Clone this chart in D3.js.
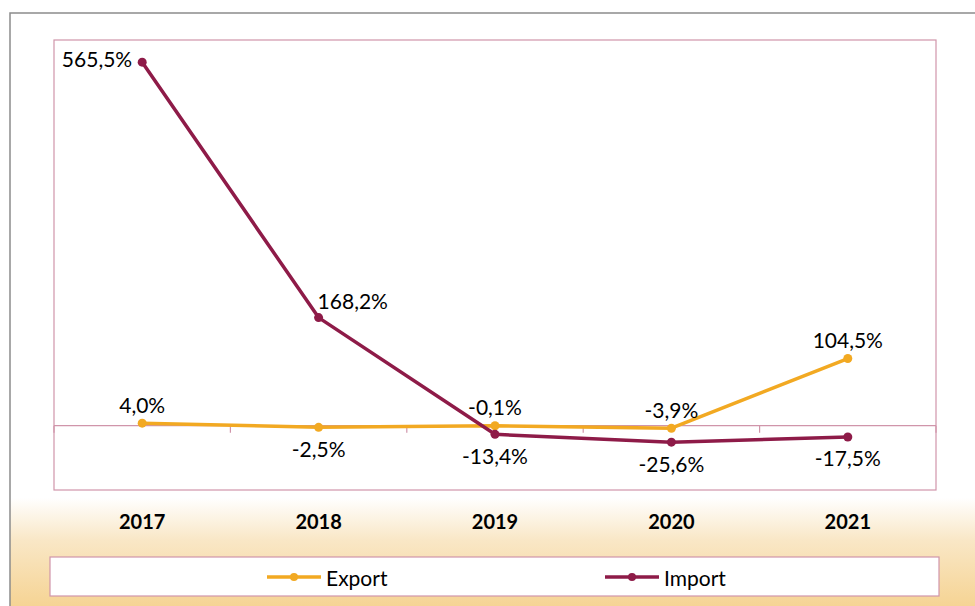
<!DOCTYPE html>
<html>
<head>
<meta charset="utf-8">
<script src="https://cdn.jsdelivr.net/npm/d3@7"></script>
<style>
  body { margin: 0; background: #fff; }
  svg text { font-family: Lato, "Open Sans", sans-serif; fill: #000; }
</style>
</head>
<body>
<div id="chart"></div>
<script>
// data
var years = ["2017", "2018", "2019", "2020", "2021"];
var exportValues = [4.0, -2.5, -0.1, -3.9, 104.5];
var importValues = [565.5, 168.2, -13.4, -25.6, -17.5];
var seriesNames = ["Export", "Import"];

// label placement per point (style only)
var exportPlace = ["above", "below", "above", "above", "above"];
var importPlace = ["left", "aboveRight", "below", "below", "below"];

var W = 975, H = 606;
var margin = {top: 40, right: 39, bottom: 116, left: 54};
var plotW = W - margin.left - margin.right,
    plotH = H - margin.top - margin.bottom;

var colors = {Export: "#f2a922", Import: "#8e1b48"};
var pink = "#d095aa";

var svg = d3.select("#chart").append("svg")
    .attr("width", W)
    .attr("height", H);

// background gradient
var defs = svg.append("defs");
var grad = defs.append("linearGradient")
    .attr("id", "bg")
    .attr("x1", 0).attr("y1", 0).attr("x2", 0).attr("y2", 1);
grad.append("stop").attr("offset", "0%").attr("stop-color", "#ffffff");
grad.append("stop").attr("offset", "80%").attr("stop-color", "#ffffff");
grad.append("stop").attr("offset", "87%").attr("stop-color", "#f9e7c6");
grad.append("stop").attr("offset", "100%").attr("stop-color", "#f5d08a");

svg.append("rect")
    .attr("x", 10).attr("y", 13)
    .attr("width", W).attr("height", H)
    .attr("fill", "url(#bg)")
    .attr("stroke", "#8c8c8c")
    .attr("stroke-width", 1.5);

var x = d3.scaleBand()
    .domain(years)
    .range([margin.left, margin.left + plotW]);

var y = d3.scaleLinear()
    .domain([-100, 600])
    .range([margin.top + plotH, margin.top]);

// plot area
svg.append("rect")
    .attr("x", margin.left).attr("y", margin.top)
    .attr("width", plotW).attr("height", plotH)
    .attr("fill", "#fff")
    .attr("stroke", pink)
    .attr("stroke-width", 1.2);

// zero axis with ticks at category boundaries
var xAxis = svg.append("g")
    .attr("transform", "translate(0," + y(0) + ")");
xAxis.append("line")
    .attr("x1", margin.left).attr("x2", margin.left + plotW)
    .attr("stroke", pink).attr("stroke-width", 1.2);
xAxis.selectAll(".tick")
    .data(years.map(function(d) { return x(d); }).concat([margin.left + plotW]))
  .enter().append("line")
    .attr("class", "tick")
    .attr("x1", function(d) { return d; })
    .attr("x2", function(d) { return d; })
    .attr("y1", 0).attr("y2", 7)
    .attr("stroke", pink).attr("stroke-width", 1.2);

// category labels
svg.selectAll(".cat")
    .data(years)
  .enter().append("text")
    .attr("class", "cat")
    .attr("x", function(d) { return x(d) + x.bandwidth() / 2; })
    .attr("y", 521)
    .attr("text-anchor", "middle")
    .attr("dominant-baseline", "central")
    .style("font-size", "20px")
    .style("font-weight", "bold")
    .text(function(d) { return d; });

var cx = function(i) { return x(years[i]) + x.bandwidth() / 2; };

var line = d3.line()
    .x(function(d, i) { return cx(i); })
    .y(function(d) { return y(d); });

function fmt(v) {
  return v.toFixed(1).replace(".", ",") + "%";
}

function drawSeries(values, name, place) {
  var g = svg.append("g");
  g.append("path")
      .datum(values)
      .attr("d", line)
      .attr("fill", "none")
      .attr("stroke", colors[name])
      .attr("stroke-width", 3.5)
      .attr("stroke-linejoin", "round");
  g.selectAll("circle")
      .data(values)
    .enter().append("circle")
      .attr("cx", function(d, i) { return cx(i); })
      .attr("cy", function(d) { return y(d); })
      .attr("r", 4.5)
      .attr("fill", colors[name]);
  g.selectAll("text")
      .data(values)
    .enter().append("text")
      .attr("x", function(d, i) {
        if (place[i] == "left") return cx(i) - 10;
        if (place[i] == "aboveRight") return cx(i) - 1;
        return cx(i);
      })
      .attr("y", function(d, i) {
        if (place[i] == "above") return y(d) - 19;
        if (place[i] == "below") return y(d) + 21;
        if (place[i] == "aboveRight") return y(d) - 17;
        return y(d) - 4;
      })
      .attr("text-anchor", function(d, i) {
        if (place[i] == "left") return "end";
        if (place[i] == "aboveRight") return "start";
        return "middle";
      })
      .attr("dominant-baseline", "central")
      .style("font-size", "21px")
      .text(fmt);
}

drawSeries(exportValues, "Export", exportPlace);
drawSeries(importValues, "Import", importPlace);

// legend
svg.append("rect")
    .attr("x", 50).attr("y", 557)
    .attr("width", 889).attr("height", 39)
    .attr("fill", "#fff")
    .attr("stroke", pink)
    .attr("stroke-width", 1.2);

var legendX = [267, 605];
var legend = svg.selectAll(".legend")
    .data(seriesNames)
  .enter().append("g")
    .attr("class", "legend")
    .attr("transform", function(d, i) { return "translate(" + legendX[i] + ",577)"; });
legend.append("line")
    .attr("x1", 0).attr("x2", 54)
    .attr("stroke", function(d) { return colors[d]; })
    .attr("stroke-width", 3.5);
legend.append("circle")
    .attr("cx", 27).attr("r", 4)
    .attr("fill", function(d) { return colors[d]; });
legend.append("text")
    .attr("x", 59)
    .attr("dominant-baseline", "central")
    .style("font-size", "21px")
    .text(function(d) { return d; });
</script>
</body>
</html>
